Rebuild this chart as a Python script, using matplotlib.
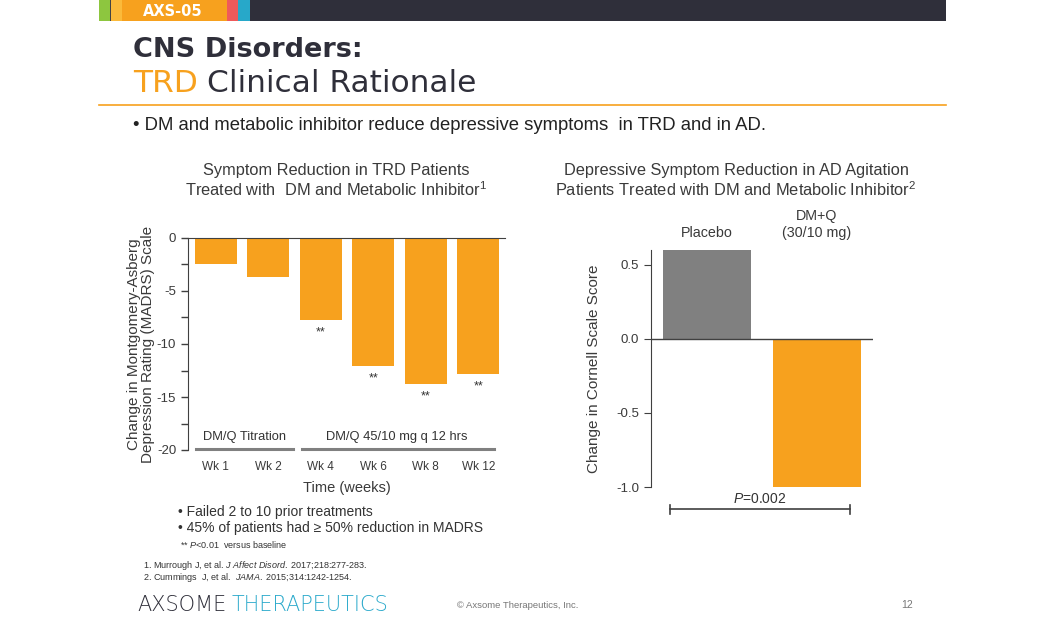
import matplotlib
matplotlib.use("Agg")
import matplotlib.pyplot as plt
from matplotlib.patches import Rectangle

plt.rcParams['font.family'] = ['Liberation Sans', 'DejaVu Sans']
plt.rcParams['axes.unicode_minus'] = False
plt.rcParams['mathtext.fontset'] = 'custom'
plt.rcParams['mathtext.it'] = 'Liberation Sans:italic'
plt.rcParams['mathtext.rm'] = 'Liberation Sans'

# data
weeks = ["Wk 1", "Wk 2", "Wk 4", "Wk 6", "Wk 8", "Wk 12"]
madrs_change = [-2.5, -3.7, -7.7, -12.1, -13.8, -12.8]
madrs_sig = ["", "", "**", "**", "**", "**"]
groups = ["Placebo", "DM+Q\n(30/10 mg)"]
cornell_change = [0.6, -1.0]

W, H = 1046, 635
ORANGE = "#F7A11E"
GRAY = "#808080"
DARK = "#333333"
TXT = "#3a3a3a"
CYAN = "#2AA9CB"

fig = plt.figure(figsize=(W / 100, H / 100), dpi=100)


def fx(x):
    return x / W


def fy(y):
    return 1 - y / H


def px_axes(x0, y0, x1, y1):
    return fig.add_axes([fx(x0), fy(y1), (x1 - x0) / W, (y1 - y0) / H])


# header bar
bg = fig.add_axes([0, 0, 1, 1])
bg.set_xlim(0, W)
bg.set_ylim(H, 0)
bg.axis("off")
for x0, x1, c in [(99, 110, "#8DC63F"), (110, 111, "#444444"), (111, 122, "#FBBA3A"),
                  (122, 227, ORANGE), (227, 238, "#EF5A5A"), (238, 250, "#27A8C9"),
                  (250, 946, "#2F2F3A")]:
    bg.add_patch(Rectangle((x0, 0), x1 - x0, 21, color=c, lw=0))
bg.text(173, 11, "AXS-05", color="white", fontsize=10.5, fontweight="bold",
        ha="center", va="center", family="DejaVu Sans")
bg.text(133, 50, "CNS Disorders:", color="#2F2F3A", fontsize=19.5, fontweight="bold",
        ha="left", va="center", family="DejaVu Sans")
bg.text(133, 83, "TRD", color=ORANGE, fontsize=22.5, ha="left", va="center",
        family="DejaVu Sans")
bg.text(207, 83, "Clinical Rationale", color="#2F2F3A", fontsize=22.5, ha="left",
        va="center", family="DejaVu Sans")
bg.plot([99, 946], [105, 105], color=ORANGE, lw=1.2)
bg.text(133, 126, "\u2022 DM and metabolic inhibitor reduce depressive symptoms  in TRD and in AD.",
        color="#222222", fontsize=13.3, ha="left", va="center")

# chart titles
bg.text(336, 170, "Symptom Reduction in TRD Patients", color=TXT, fontsize=11.8,
        ha="center", va="center")
bg.text(336, 190, "Treated with  DM and Metabolic Inhibitor$^{1}$", color=TXT, fontsize=11.8,
        ha="center", va="center")
bg.text(736, 170, "Depressive Symptom Reduction in AD Agitation", color=TXT, fontsize=11.8,
        ha="center", va="center")
bg.text(736, 190, "Patients Treated with DM and Metabolic Inhibitor$^{2}$", color=TXT,
        fontsize=11.8, ha="center", va="center")

# left chart
ax1 = px_axes(188, 238, 505, 450)
xs = list(range(len(weeks)))
ax1.bar(xs, madrs_change, width=0.8, color=ORANGE)
for x, v, s in zip(xs, madrs_change, madrs_sig):
    if s:
        ax1.text(x, v - 0.6, s, ha="center", va="top", fontsize=9, color=DARK)
ax1.set_xlim(-0.53, 5.51)
ax1.set_ylim(-20, 0)
ax1.set_yticks([0, -5, -10, -15, -20])
ax1.set_yticks([-2.5, -7.5, -12.5, -17.5], minor=True)
ax1.tick_params(axis="y", which="both", length=5, color="#404040", labelsize=9.5,
                labelcolor=TXT, width=1)
ax1.set_xticks(xs)
ax1.set_xticklabels(weeks)
ax1.tick_params(axis="x", length=0, pad=8, labelsize=8.5, labelcolor=TXT)
for sp in ["right", "bottom"]:
    ax1.spines[sp].set_visible(False)
ax1.spines["top"].set_color("#404040")
ax1.spines["left"].set_color("#404040")
ax1.set_ylabel("Change in Montgomery-Asberg\nDepression Rating (MADRS) Scale",
               fontsize=11, color=TXT, labelpad=1, linespacing=1.05)
ax1.set_xlabel("Time (weeks)", fontsize=10.5, color=TXT, labelpad=6)
ax1.plot([-0.37, 1.47], [-19.9, -19.9], color="#808080", lw=2.2, clip_on=False)
ax1.plot([1.65, 5.3], [-19.9, -19.9], color="#808080", lw=2.2, clip_on=False)
ax1.text(0.55, -18.8, "DM/Q Titration", ha="center", va="center", fontsize=9.3, color=DARK)
ax1.text(3.45, -18.8, "DM/Q 45/10 mg q 12 hrs", ha="center", va="center", fontsize=9.3,
         color=DARK)

# notes under left chart
bg.text(178, 512, "\u2022 Failed 2 to 10 prior treatments", fontsize=10, color=DARK,
        va="center")
bg.text(178, 528, "\u2022 45% of patients had \u2265 50% reduction in MADRS", fontsize=10,
        color=DARK, va="center")
bg.text(180, 545, "** $\\it{P}$<0.01  versus baseline", fontsize=6.5, color=DARK,
        va="center")
bg.text(143, 566, "1. Murrough J, et al. $\\it{J\\ Affect\\ Disord.}$ 2017;218:277-283.",
        fontsize=6.5, color=DARK, va="center")
bg.text(143, 578, "2. Cummings  J, et al.  $\\it{JAMA.}$ 2015;314:1242-1254.",
        fontsize=6.5, color=DARK, va="center")

# right chart
ax2 = px_axes(651, 250, 873, 487)
gx = list(range(len(groups)))
ax2.bar(gx, cornell_change, width=0.8, color=[GRAY, ORANGE])
ax2.set_xlim(-0.51, 1.51)
ax2.set_ylim(-1.0, 0.6)
ax2.set_yticks([0.5, 0.0, -0.5, -1.0])
ax2.set_yticklabels(["0.5", "0.0", "-0.5", "-1.0"])
ax2.tick_params(axis="y", length=5, color="#404040", labelsize=9.5, labelcolor=TXT)
ax2.set_xticks([])
for sp in ["right", "bottom", "top"]:
    ax2.spines[sp].set_visible(False)
ax2.spines["left"].set_color("#404040")
ax2.axhline(0, color="#404040", lw=1)
ax2.set_ylabel("Change in Cornell Scale Score", fontsize=11, color=TXT, labelpad=11)
ax2.text(0, 0.67, groups[0], ha="center", va="bottom", fontsize=10.3, color=TXT)
ax2.text(1, 0.67, groups[1], ha="center", va="bottom", fontsize=10.3, color=TXT,
         multialignment="center", linespacing=1.2)
ax2.plot([-0.34, 1.3], [-1.15, -1.15], color="#404040", lw=1.2, clip_on=False)
for x in [-0.34, 1.3]:
    ax2.plot([x, x], [-1.12, -1.18], color="#404040", lw=1.2, clip_on=False)
ax2.text(0.48, -1.13, "$\\it{P}$=0.002", ha="center", va="bottom", fontsize=10, color=DARK)

# footer
bg.text(137, 605, "AXSOME", fontsize=15, color="#2F2F3A", va="center", ha="left",
        family="DejaVu Sans", fontweight="light")
bg.text(232, 605, "THERAPEUTICS", fontsize=15, color=CYAN, va="center", ha="left",
        family="DejaVu Sans", fontweight="light")
bg.text(518, 605, "\u00a9 Axsome Therapeutics, Inc.", fontsize=6.8, color="#777777",
        va="center", ha="center")
bg.text(907, 605, "12", fontsize=7.5, color="#777777", va="center", ha="center")

fig.savefig("out.png", dpi=100)
